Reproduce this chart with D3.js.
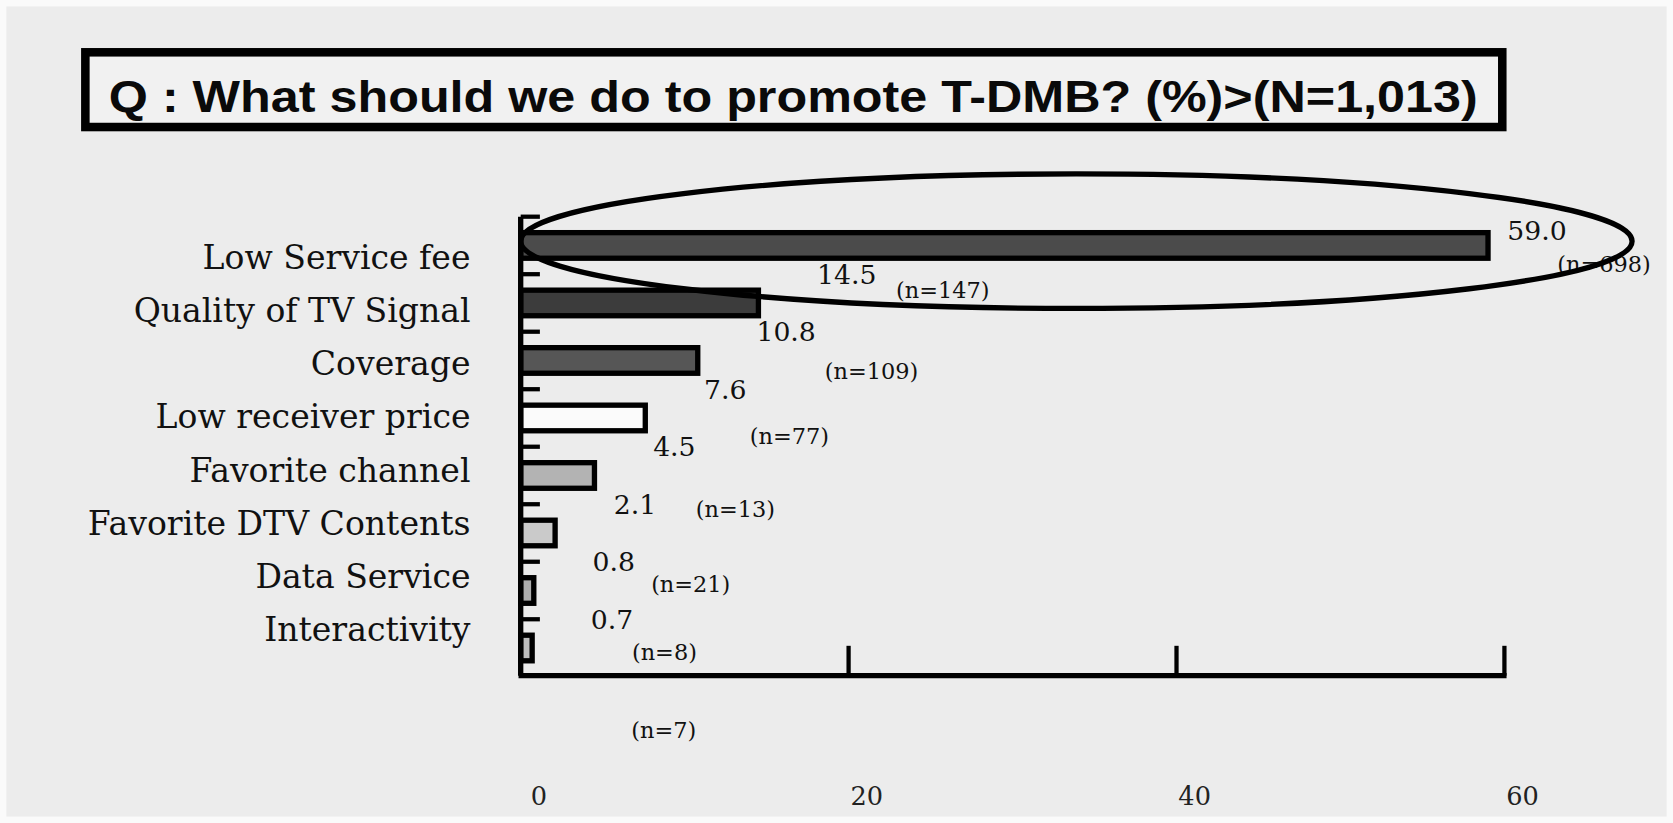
<!DOCTYPE html>
<html>
<head>
<meta charset="utf-8">
<script src="https://cdn.jsdelivr.net/npm/d3@7"></script>
<style>
  body { margin: 0; background: #fafafa; }
  svg { display: block; }
</style>
</head>
<body>
<svg id="chart"></svg>
<script>
// data
var categories = ["Low Service fee", "Quality of TV Signal", "Coverage", "Low receiver price",
                  "Favorite channel", "Favorite DTV Contents", "Data Service", "Interactivity"];
var values = [59.0, 14.5, 10.8, 7.6, 4.5, 2.1, 0.8, 0.7];
var valueLabels = ["59.0", "14.5", "10.8", "7.6", "4.5", "2.1", "0.8", "0.7"];
var nLabels = ["(n=698)", "(n=147)", "(n=109)", "(n=77)", "(n=13)", "(n=21)", "(n=8)", "(n=7)"];
var xTicks = [0, 20, 40, 60];
var title = "Q : What should we do to promote T-DMB? (%)>(N=1,013)";

// styling / layout, not data
var barFill = ["#4b4b4b", "#3c3c3c", "#565656", "#fbfbfb", "#b3b3b3", "#cacaca", "#aeaeae", "#bdbdbd"];
// where the "(n=..)" notes sit, relative to bar end / bar centre (they drift in the original)
var nDx = [65, 129, 119, 98, 95, 90, 92, 93];
var nDy = [18, -12, 10, 17, 32, 48, 58, 77];

// drawing space is 1568x771, stretched to the window
var width = 1568, height = 771;
var serif = "'DejaVu Serif', 'Liberation Serif', serif";

var svg = d3.select("#chart")
  .attr("width", 1673).attr("height", 823)
  .attr("viewBox", `0 0 ${width} ${height}`)
  .attr("preserveAspectRatio", "none");

svg.append("rect")
  .attr("x", 6).attr("y", 6)
  .attr("width", width - 12).attr("height", height - 12)
  .attr("fill", "#ececec");

// title box
svg.append("rect")
  .attr("x", 80).attr("y", 49)
  .attr("width", 1328).attr("height", 70)
  .attr("fill", "#f1f1f1")
  .attr("stroke", "#000")
  .attr("stroke-width", 8);

svg.append("text")
  .attr("x", 102).attr("y", 105)
  .attr("font-family", "'Liberation Sans', Arial, sans-serif")
  .attr("font-weight", "bold")
  .attr("font-size", 41)
  .attr("textLength", 1283)
  .attr("lengthAdjust", "spacingAndGlyphs")
  .attr("fill", "#0a0a0a")
  .text(title);

var x = d3.scaleLinear().domain([0, 60]).range([488, 1410]);
var y = d3.scaleBand().domain(categories).range([203, 634])
  .paddingInner(0.555).paddingOuter(0.2775);
var labelY = d3.scalePoint().domain(categories).range([241, 590]);
var gap = y.step() - y.bandwidth();

// bars
svg.selectAll("rect.bar")
    .data(values)
  .enter().append("rect")
    .attr("class", "bar")
    .attr("x", x(0))
    .attr("y", (d, i) => y(categories[i]))
    .attr("width", (d) => x(d) - x(0))
    .attr("height", y.bandwidth())
    .attr("fill", (d, i) => barFill[i])
    .attr("stroke", "#000")
    .attr("stroke-width", 5);

// left axis line + little ticks between the bars
var yTop = y(categories[0]) - gap / 2;
var yBottom = 633;
svg.append("line")
  .attr("x1", x(0)).attr("x2", x(0))
  .attr("y1", yTop).attr("y2", yBottom)
  .attr("stroke", "#000").attr("stroke-width", 5);

svg.selectAll("line.ytick")
    .data(categories)
  .enter().append("line")
    .attr("class", "ytick")
    .attr("x1", x(0)).attr("x2", x(0) + 18)
    .attr("y1", (d) => y(d) - gap / 2)
    .attr("y2", (d) => y(d) - gap / 2)
    .attr("stroke", "#000").attr("stroke-width", 4);

// bottom axis: ticks point up, labels are far below
svg.append("line")
  .attr("x1", x(0) - 2).attr("x2", x(60) + 2)
  .attr("y1", yBottom).attr("y2", yBottom)
  .attr("stroke", "#000").attr("stroke-width", 5);

svg.selectAll("line.xtick")
    .data(xTicks.filter((d) => d > 0))
  .enter().append("line")
    .attr("class", "xtick")
    .attr("x1", (d) => x(d)).attr("x2", (d) => x(d))
    .attr("y1", yBottom - 28).attr("y2", yBottom)
    .attr("stroke", "#000").attr("stroke-width", 4);

svg.selectAll("text.xlab")
    .data(xTicks)
  .enter().append("text")
    .attr("class", "xlab")
    .attr("x", (d) => x(d) + 17)
    .attr("y", 754)
    .attr("text-anchor", "middle")
    .attr("font-family", serif)
    .attr("font-size", 24)
    .attr("fill", "#222")
    .text((d) => d);

// category labels
svg.selectAll("text.cat")
    .data(categories)
  .enter().append("text")
    .attr("class", "cat")
    .attr("x", 441)
    .attr("y", (d) => labelY(d))
    .attr("dy", "0.35em")
    .attr("text-anchor", "end")
    .attr("font-family", serif)
    .attr("font-size", 31)
    .attr("fill", "#111")
    .text((d) => d);

// value labels sit in the gap above each bar
svg.selectAll("text.val")
    .data(values)
  .enter().append("text")
    .attr("class", "val")
    .attr("x", (d, i) => x(d) + (i === 0 ? 18 : 55))
    .attr("y", (d, i) => y(categories[i]) - gap / 2 + (i === 0 ? 22 : 9))
    .attr("font-family", serif)
    .attr("font-size", 25)
    .attr("fill", "#111")
    .text((d, i) => valueLabels[i]);

svg.selectAll("text.nlab")
    .data(values)
  .enter().append("text")
    .attr("class", "nlab")
    .attr("x", (d, i) => x(d) + nDx[i])
    .attr("y", (d, i) => y(categories[i]) + y.bandwidth() / 2 + nDy[i])
    .attr("dy", "0.35em")
    .attr("font-family", serif)
    .attr("font-size", 21)
    .attr("fill", "#111")
    .text((d, i) => nLabels[i]);

// the highlight ring round the first bar
var cy = y(categories[0]) + y.bandwidth() / 2 - 4;
var left = x(0), right = x(values[0]) + 135;
svg.append("ellipse")
  .attr("cx", (left + right) / 2)
  .attr("cy", cy)
  .attr("rx", (right - left) / 2)
  .attr("ry", 63)
  .attr("fill", "none")
  .attr("stroke", "#000")
  .attr("stroke-width", 5);
</script>
</body>
</html>
